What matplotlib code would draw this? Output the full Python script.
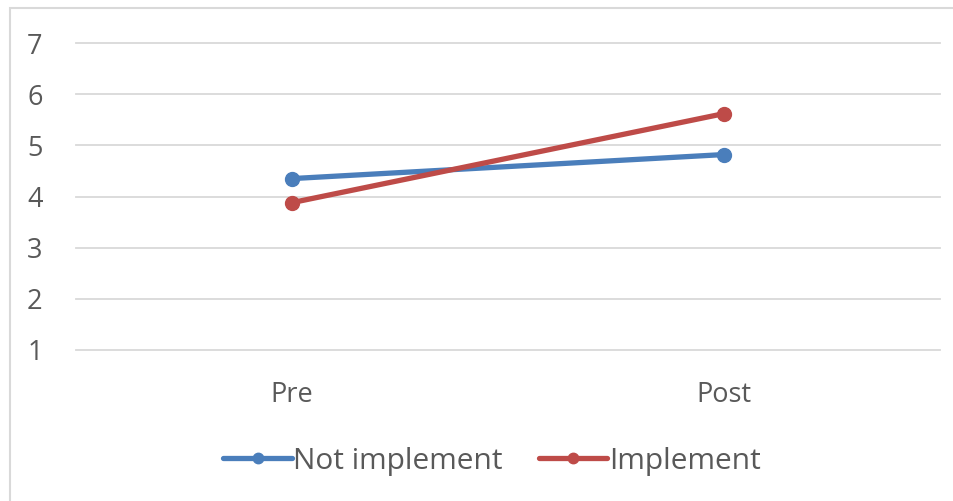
import matplotlib
matplotlib.use("Agg")
import matplotlib.pyplot as plt
from matplotlib.patches import Rectangle

# Data
phases = ["Pre", "Post"]
not_implement = [4.35, 4.82]
implement = [3.88, 5.62]
y_ticks = [1, 2, 3, 4, 5, 6, 7]

W, H = 954, 501
fig = plt.figure(figsize=(W / 100, H / 100), dpi=100)
plt.rcParams["font.family"] = ["Open Sans", "DejaVu Sans"]
text_color = "#595959"

# Chart-area frame
fig.patches.append(Rectangle((10 / W, -0.1), 1.2, 1 - 8 / H + 0.1,
                             transform=fig.transFigure, fill=False,
                             edgecolor="#D9D9D9", linewidth=1.5))

left, right = 76 / W, 940 / W
bottom, top = 1 - 350 / H, 1 - 43 / H
ax = fig.add_axes([left, bottom, right - left, top - bottom])

x = list(range(len(phases)))
ax.plot(x, not_implement, color="#4A7EBB", linewidth=3.8, marker="o",
        markersize=10, label="Not implement", clip_on=False, zorder=3,
        solid_capstyle="round")
ax.plot(x, implement, color="#BE4B48", linewidth=3.8, marker="o",
        markersize=10, label="Implement", clip_on=False, zorder=3,
        solid_capstyle="round")

ax.set_xlim(-0.5, 1.5)
ax.set_ylim(1, 7)
ax.set_yticks(y_ticks)
ax.set_xticks(x)
ax.set_xticklabels(phases)

for y in y_ticks:
    ax.axhline(y, color="#D9D9D9", linewidth=1.3, zorder=1, clip_on=False)

for s in ax.spines.values():
    s.set_visible(False)
ax.tick_params(axis="both", length=0, labelsize=19.5, colors=text_color)
ax.tick_params(axis="y", pad=24)
ax.tick_params(axis="x", pad=22)

fig.legend(loc="center", bbox_to_anchor=(492 / W, 1 - 461 / H), ncol=2,
           frameon=False, fontsize=21.5, handlelength=2.3, handletextpad=0.05,
           columnspacing=1.2, labelcolor=text_color, markerscale=0.75)

fig.savefig("out.png", dpi=100, facecolor="white")
